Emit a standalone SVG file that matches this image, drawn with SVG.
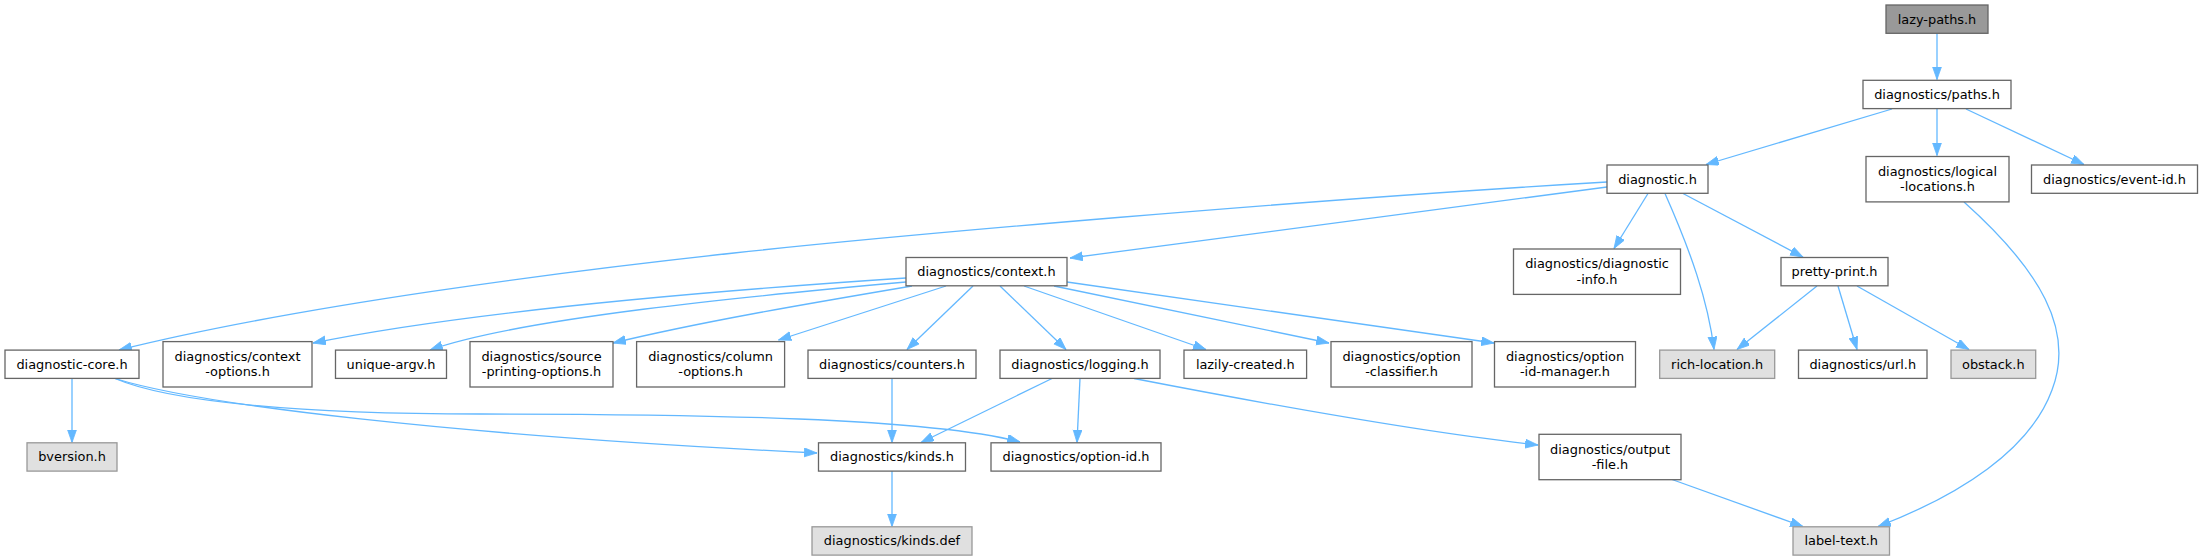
<svg xmlns="http://www.w3.org/2000/svg" width="2203" height="560" viewBox="0 0 2203 560">
<defs>
<style>
.n rect{fill:#ffffff;stroke:#666666;stroke-width:1.3}
.g rect{fill:#e0e0e0;stroke:#999999;stroke-width:1.3}
.r rect{fill:#999999;stroke:#666666;stroke-width:1.3}
text{font-family:"DejaVu Sans","Liberation Sans",sans-serif;font-size:12.9px;fill:#000000;text-anchor:middle}
#edges path{fill:none;stroke:#63b8ff;stroke-width:1.3;marker-end:url(#ah)}
</style>
<marker id="ah" markerUnits="userSpaceOnUse" markerWidth="14" markerHeight="10" refX="12.8" refY="4.5" orient="auto">
<path d="M0,0 L12.8,4.5 L0,9 z" fill="#63b8ff" stroke="#63b8ff" stroke-width="0.8"/>
</marker>
</defs>
<rect width="2203" height="560" fill="#ffffff"/>
<g id="edges">
<path d="M1937,33.5 L1937,79.5"/>
<path d="M1892,109 L1706,164.5"/>
<path d="M1937,109 L1937,155.5"/>
<path d="M1966,109 L2084,164.5"/>
<path d="M1607,182 C1300,200 900,235 734,253 S300,305 119,350"/>
<path d="M1607,187 L1070,258"/>
<path d="M1648,193.5 L1614,248.5"/>
<path d="M1665,193.5 C1690,250 1708,300 1714,349.5"/>
<path d="M1683,193.5 L1803,257"/>
<path d="M1964,202 C2040,270 2075,330 2052,390 C2030,450 1960,495 1878,526.5"/>
<path d="M1817,286 L1737,349.5"/>
<path d="M1838,286 L1857,349.5"/>
<path d="M1857,286 L1969,349.5"/>
<path d="M906,278 C800,285 500,305 313,343"/>
<path d="M906,282 C750,296 520,318 430,350"/>
<path d="M912,286 C800,305 700,322 613,343"/>
<path d="M946,286 L778.5,340"/>
<path d="M973,286 L907,349.5"/>
<path d="M1000,286 L1066,349.5"/>
<path d="M1024,286 L1206,349.5"/>
<path d="M1054,286 L1329,343"/>
<path d="M1067,282 L1494,343"/>
<path d="M72,378.5 L72,442.5"/>
<path d="M115,378.5 C200,405 450,435 817,453"/>
<path d="M115,378.5 C170,402 300,414 480,414 C700,414 930,418 1020,442"/>
<path d="M892,378.5 L892,442.5"/>
<path d="M1052,378.5 L921,442.5"/>
<path d="M1080,378.5 L1077,442.5"/>
<path d="M1134,378.5 Q1400,430 1538,445"/>
<path d="M892,471 L892,526.5"/>
<path d="M1672,479.5 L1803,526.5"/>
</g>
<g id="n1" class="r"><rect x="1886" y="5" width="102" height="28.3"/><text x="1937" y="23.5">lazy-paths.h</text></g>
<g id="n2" class="n"><rect x="1863" y="80.3" width="148" height="28.3"/><text x="1937" y="99">diagnostics/paths.h</text></g>
<g id="n3" class="n"><rect x="1607" y="165" width="101" height="28.3"/><text x="1657.5" y="183.6">diagnostic.h</text></g>
<g id="n4" class="n"><rect x="1866" y="156.5" width="143" height="45.4"/><text x="1937.5" y="175.7">diagnostics/logical</text><text x="1937.5" y="191.2">-locations.h</text></g>
<g id="n5" class="n"><rect x="2031.5" y="165" width="166" height="28.3"/><text x="2114.5" y="183.6">diagnostics/event-id.h</text></g>
<g id="n6" class="n"><rect x="906" y="257.5" width="161" height="28.3"/><text x="986.5" y="276.1">diagnostics/context.h</text></g>
<g id="n7" class="n"><rect x="1513.5" y="249" width="167" height="45.4"/><text x="1597" y="268.2">diagnostics/diagnostic</text><text x="1597" y="283.7">-info.h</text></g>
<g id="n8" class="n"><rect x="1781" y="257.5" width="107" height="28.3"/><text x="1834.5" y="276.1">pretty-print.h</text></g>
<g id="n9" class="n"><rect x="5" y="350.1" width="134" height="28.3"/><text x="72" y="368.7">diagnostic-core.h</text></g>
<g id="n10" class="n"><rect x="163" y="341.6" width="149" height="45.4"/><text x="237.5" y="360.8">diagnostics/context</text><text x="237.5" y="376.3">-options.h</text></g>
<g id="n11" class="n"><rect x="335.5" y="350.1" width="111" height="28.3"/><text x="391" y="368.7">unique-argv.h</text></g>
<g id="n12" class="n"><rect x="470" y="341.6" width="143" height="45.4"/><text x="541.5" y="360.8">diagnostics/source</text><text x="541.5" y="376.3">-printing-options.h</text></g>
<g id="n13" class="n"><rect x="636.6" y="341.6" width="148" height="45.4"/><text x="710.6" y="360.8">diagnostics/column</text><text x="710.6" y="376.3">-options.h</text></g>
<g id="n14" class="n"><rect x="808" y="350.1" width="168" height="28.3"/><text x="892" y="368.7">diagnostics/counters.h</text></g>
<g id="n15" class="n"><rect x="1000" y="350.1" width="160" height="28.3"/><text x="1080" y="368.7">diagnostics/logging.h</text></g>
<g id="n16" class="n"><rect x="1184" y="350.1" width="122.6" height="28.3"/><text x="1245.3" y="368.7">lazily-created.h</text></g>
<g id="n17" class="n"><rect x="1331" y="341.6" width="141" height="45.4"/><text x="1401.5" y="360.8">diagnostics/option</text><text x="1401.5" y="376.3">-classifier.h</text></g>
<g id="n18" class="n"><rect x="1494.5" y="341.6" width="141" height="45.4"/><text x="1565" y="360.8">diagnostics/option</text><text x="1565" y="376.3">-id-manager.h</text></g>
<g id="n19" class="g"><rect x="1659.7" y="350.1" width="115" height="28.3"/><text x="1717.2" y="368.7">rich-location.h</text></g>
<g id="n20" class="n"><rect x="1798.5" y="350.1" width="128.5" height="28.3"/><text x="1862.8" y="368.7">diagnostics/url.h</text></g>
<g id="n21" class="g"><rect x="1951" y="350.1" width="84.7" height="28.3"/><text x="1993.3" y="368.7">obstack.h</text></g>
<g id="n22" class="g"><rect x="27" y="442.8" width="90" height="28.3"/><text x="72" y="461.4">bversion.h</text></g>
<g id="n23" class="n"><rect x="818.5" y="442.8" width="147" height="28.3"/><text x="892" y="461.4">diagnostics/kinds.h</text></g>
<g id="n24" class="n"><rect x="991" y="442.8" width="170" height="28.3"/><text x="1076" y="461.4">diagnostics/option-id.h</text></g>
<g id="n25" class="n"><rect x="1539" y="434.3" width="142" height="45.4"/><text x="1610" y="453.5">diagnostics/output</text><text x="1610" y="469">-file.h</text></g>
<g id="n26" class="g"><rect x="812" y="526.8" width="160" height="28.3"/><text x="892" y="545.4">diagnostics/kinds.def</text></g>
<g id="n27" class="g"><rect x="1793" y="526.8" width="96.5" height="28.3"/><text x="1841.2" y="545.4">label-text.h</text></g>
</svg>
